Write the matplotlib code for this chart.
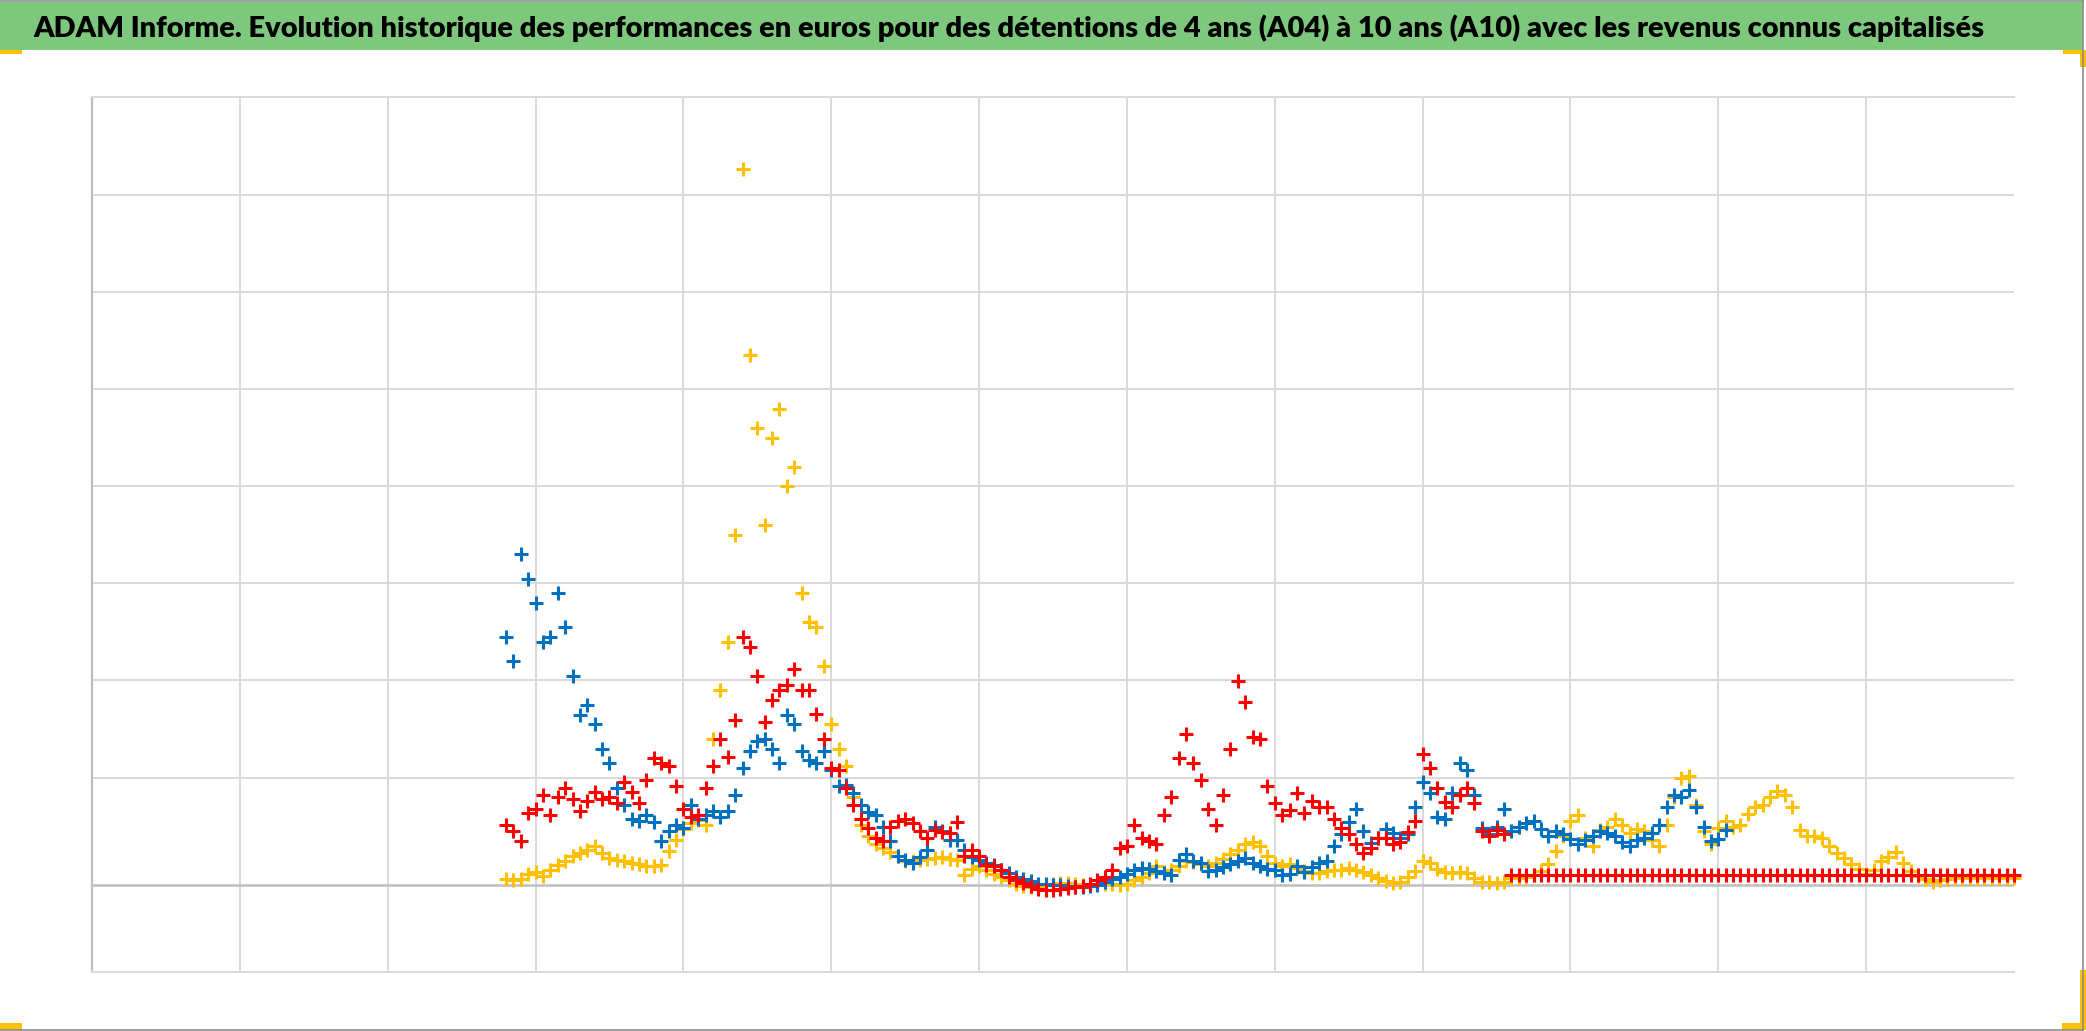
import matplotlib

matplotlib.use("Agg")
import matplotlib.pyplot as plt
import numpy as np
from matplotlib.patches import Rectangle

TITLE = ("ADAM Informe. Evolution historique des performances en euros pour des "
         "détentions de 4 ans (A04) à 10 ans (A10) avec les revenus connus capitalisés")

# all series are sampled on the same grid: start at period 2.80, one reading every 0.05
X_START = 2.80
X_STEP = 0.05

# performance readings (%), one per sample
yellow_vals = [
    6, 5, 6, 11, 13, 9, 15, 20, 25, 30,
    33, 36, 40, 33, 28, 26, 25, 22, 21, 19,
    19, 20, 35, 46, 57, 64, 67, 62, 150, 200,
    250, 360, 737, 545, 470, 370, 460, 490, 410, 430,
    300, 270, 265, 225, 165, 140, 122, 90, 62, 50,
    42, 38, 34, 30, 24, 24, 26, 27, 28, 29,
    27, 26, 10, 16, 19, 15, 11, 8, 5, 1,
    -1, -2, -1, 0, 1, 2, 2, 1, 0, 0,
    1, 1, 1, 0, 1, 5, 8, 12, 19, 13,
    15, 19, 24, 23, 21, 19, 22, 27, 32, 36,
    42, 44, 40, 30, 22, 19, 21, 17, 14, 12,
    12, 14, 15, 15, 17, 15, 13, 10, 7, 4,
    2, 3, 8, 14, 24, 22, 16, 13, 12, 13,
    12, 7, 3, 3, 2, 3, 7, 7, 8, 10,
    14, 21, 35, 50, 66, 72, 48, 40, 56, 60,
    68, 62, 53, 57, 55, 46, 40, 62, 90, 110,
    112, 82, 55, 42, 58, 66, 60, 62, 73, 80,
    82, 90, 97, 92, 80, 56, 50, 50, 48, 40,
    33, 28, 21, 16, 11, 15, 24, 29, 34, 22,
    14, 9, 6, 3, 5, 6, 7, 7, 7, 7,
    7, 7, 7, 7, 7,
]

red_vals = [
    62, 55, 45, 74, 78, 92, 72, 90, 100, 88,
    76, 86, 96, 88, 90, 84, 106, 96, 84, 108,
    130, 125, 122, 102, 78, 70, 72, 100, 122, 150,
    132, 170, 255, 245, 215, 168, 190, 200, 206, 222,
    200, 200, 176, 150, 120, 118, 100, 82, 68, 58,
    48, 45, 60, 66, 68, 64, 55, 48, 56, 54,
    53, 65, 30, 36, 30, 20, 19, 15, 8, 5,
    2, -1, -4, -5, -5, -4, -3, -2, -1, 1,
    5, 8, 15, 38, 40, 62, 48, 45, 42, 72,
    90, 130, 155, 125, 108, 78, 62, 92, 140, 210,
    188, 152, 150, 102, 84, 72, 77, 95, 74, 86,
    80, 80, 68, 58, 52, 42, 33, 38, 48, 48,
    42, 44, 54, 66, 135, 120, 100, 85, 80, 92,
    100, 84, 55, 50, 56, 52,
    # flat tail
    10, 10, 10, 10, 10, 10, 10, 10, 10, 10,
    10, 10, 10, 10, 10, 10, 10, 10, 10, 10,
    10, 10, 10, 10, 10, 10, 10, 10, 10, 10,
    10, 10, 10, 10, 10, 10, 10, 10, 10, 10,
    10, 10, 10, 10, 10, 10, 10, 10, 10, 10,
    10, 10, 10, 10, 10, 10, 10, 10, 10, 10,
    10, 10, 10, 10, 10, 10, 10, 10, 10,
]

blue_vals = [
    255, 230, 340, 315, 290, 250, 255, 300, 265, 215,
    175, 185, 165, 140, 125, 100, 82, 68, 66, 72,
    65, 45, 55, 62, 58, 82, 68, 72, 76, 70,
    76, 92, 120, 138, 148, 150, 140, 125, 175, 165,
    138, 128, 125, 138, 118, 102, 103, 94, 82, 75,
    72, 60, 45, 30, 26, 22, 29, 36, 60, 55,
    46, 46, 36, 29, 26, 22, 20, 15, 12, 8,
    6, 4, 1, 1, 0, 0, -1, -2, -2, -1,
    0, 3, 6, 8, 11, 15, 17, 16, 14, 12,
    10, 26, 32, 25, 22, 14, 15, 18, 21, 25,
    28, 22, 19, 16, 15, 10, 11, 19, 13, 18,
    22, 24, 40, 52, 65, 78, 55, 43, 48, 57,
    53, 48, 52, 80, 106, 95, 70, 68, 95, 125,
    118, 92, 58, 52, 60, 78, 55, 60, 64, 66,
    57, 50, 55, 52, 47, 42, 46, 50, 55, 53,
    50, 44, 40, 46, 48, 53, 62, 80, 92, 90,
    98, 80, 60, 45, 47, 56,
]

COL_YELLOW = "#FFC000"
COL_RED = "#FF0000"
COL_BLUE = "#0070C0"
GRID = "#D9D9D9"
AXIS = "#BFBFBF"

W, H = 2086, 1031


def fx(px):
    return px / W


def fy(py):
    return 1 - py / H


def main():
    fig = plt.figure(figsize=(W / 100, H / 100), dpi=100)
    fig.patch.set_facecolor("white")

    # green title band, outer frame (top/right/bottom) and the yellow corner handles
    fig.add_artist(Rectangle((fx(0), fy(50)), fx(2083), 48 / H, transform=fig.transFigure,
                             facecolor="#7DC87D", edgecolor="none"))
    for xs, ys in [([0, 2083], [1, 1]), ([2083, 2083], [1, 1030]), ([0, 2083], [1030, 1030])]:
        fig.add_artist(plt.Line2D([fx(v) for v in xs], [fy(v) for v in ys],
                                  transform=fig.transFigure, color="#8C8C8C", lw=1.2))
    for (x0, y0, w, h) in [(0, 50, 22, 4), (0, 1023, 22, 7), (2063, 50, 23, 4),
                           (2080, 50, 6, 17), (2062, 1023, 24, 7), (2080, 970, 6, 60)]:
        fig.add_artist(Rectangle((fx(x0), fy(y0 + h)), w / W, h / H, transform=fig.transFigure,
                                 facecolor=COL_YELLOW, edgecolor="none"))

    t = fig.text(fx(1009), fy(37), TITLE, ha="center", va="baseline",
                 fontsize=23, fontweight="heavy", family=["Lato", "DejaVu Sans"], color="black")
    fig.canvas.draw()
    bb = t.get_window_extent()
    t.set_fontsize(23 * 1952 / bb.width)

    ax = fig.add_axes([fx(92), 1 - 971.5 / H, (2014 - 92) / W, (971.5 - 97.4) / H])
    ax.set_xlim(0, 13)
    ax.set_ylim(-89.2, 810.3)

    ax.set_xticks(np.arange(1, 13))
    ax.set_yticks(110.3 + 100 * np.arange(7))
    ax.grid(True, color=GRID, lw=1.4)
    ax.set_axisbelow(True)
    ax.tick_params(length=0, labelleft=False, labelbottom=False)
    for side in ("top", "bottom"):
        ax.spines[side].set_color(GRID)
        ax.spines[side].set_linewidth(1.4)
    ax.spines["right"].set_visible(False)
    ax.spines["left"].set_color(AXIS)
    ax.spines["left"].set_linewidth(1.6)
    ax.axhline(0, color=AXIS, lw=1.8, zorder=1)

    for vals, col in [(yellow_vals, COL_YELLOW), (blue_vals, COL_BLUE), (red_vals, COL_RED)]:
        x = X_START + X_STEP * np.arange(len(vals))
        ax.plot(x, vals, linestyle="none", marker="+", ms=9.5, mew=2.2, color=col,
                clip_on=False, zorder=3)

    fig.savefig("out.png", dpi=100)


if __name__ == "__main__":
    main()
